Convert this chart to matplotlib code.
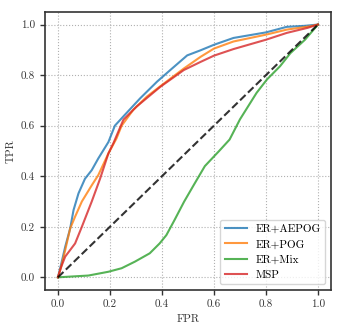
import matplotlib
matplotlib.use("Agg")
import matplotlib.pyplot as plt

plt.rcParams['font.family'] = 'serif'
plt.rcParams['font.serif'] = ['cmr10', 'DejaVu Serif']
plt.rcParams['axes.formatter.use_mathtext'] = True
plt.rcParams['mathtext.fontset'] = 'cm'

labels = ["ER+AEPOG", "ER+POG", "ER+Mix", "MSP"]
colors = ["#1f77b4", "#ff7f0e", "#2ca02c", "#d62728"]

fpr_aepog = [0, 0.012, 0.028, 0.047, 0.06, 0.079, 0.104, 0.13, 0.155, 0.194, 0.219, 0.252, 0.316, 0.381, 0.432,
             0.497, 0.548, 0.6, 0.675, 0.8, 0.88, 0.95, 1.0]
tpr_aepog = [0, 0.05, 0.121, 0.193, 0.266, 0.332, 0.39, 0.424, 0.47, 0.535, 0.6, 0.637, 0.708, 0.774, 0.82,
             0.878, 0.898, 0.92, 0.947, 0.969, 0.991, 0.995, 1.0]

fpr_pog = [0, 0.012, 0.028, 0.047, 0.066, 0.092, 0.13, 0.155, 0.194, 0.225, 0.245, 0.29, 0.342, 0.40,
           0.484, 0.548, 0.6, 0.675, 0.8, 0.88, 0.97, 1.0]
tpr_pog = [0, 0.04, 0.108, 0.193, 0.24, 0.30, 0.364, 0.404, 0.49, 0.549, 0.60, 0.663, 0.715, 0.761,
           0.826, 0.872, 0.905, 0.933, 0.96, 0.98, 0.993, 1.0]

fpr_mix = [0, 0.117, 0.194, 0.245, 0.296, 0.353, 0.391, 0.417, 0.448, 0.485, 0.525, 0.565, 0.62, 0.66,
           0.70, 0.764, 0.804, 0.854, 0.894, 0.95, 1.0]
tpr_mix = [0, 0.007, 0.022, 0.036, 0.062, 0.095, 0.134, 0.167, 0.226, 0.299, 0.37, 0.44, 0.50, 0.545,
           0.625, 0.73, 0.783, 0.835, 0.887, 0.94, 1.0]

fpr_msp = [0, 0.012, 0.028, 0.066, 0.092, 0.13, 0.162, 0.194, 0.213, 0.252, 0.303, 0.394, 0.484,
           0.548, 0.6, 0.675, 0.8, 0.88, 0.96, 1.0]
tpr_msp = [0, 0.04, 0.082, 0.134, 0.20, 0.30, 0.39, 0.49, 0.53, 0.624, 0.676, 0.754, 0.82,
           0.852, 0.877, 0.903, 0.94, 0.967, 0.987, 1.0]

curves = [(fpr_aepog, tpr_aepog), (fpr_pog, tpr_pog), (fpr_mix, tpr_mix), (fpr_msp, tpr_msp)]

fig = plt.figure(figsize=(3.43, 3.31), dpi=100)
ax = fig.add_axes([0.131, 0.124, 0.834, 0.840])

for (x, y), lab, c in zip(curves, labels, colors):
    ax.plot(x, y, color=c, lw=1.5, alpha=0.8, label=lab)
ax.plot([0, 1], [0, 1], color='black', ls='--', lw=1.5, alpha=0.8)

ax.set_xlim(-0.05, 1.05)
ax.set_ylim(-0.05, 1.05)
ax.set_xticks([0, 0.2, 0.4, 0.6, 0.8, 1.0])
ax.set_yticks([0, 0.2, 0.4, 0.6, 0.8, 1.0])
ax.set_xticklabels(["0.0", "0.2", "0.4", "0.6", "0.8", "1.0"])
ax.set_yticklabels(["0.0", "0.2", "0.4", "0.6", "0.8", "1.0"])
ax.tick_params(labelsize=8, color='#333333', width=1, length=3.5, labelcolor='#333333')
ax.grid(True, ls=':', color='#b0b0b0', lw=0.8)
for s in ax.spines.values():
    s.set_color('#333333')
    s.set_linewidth(1.2)
ax.set_xlabel("FPR", fontsize=8, color='#333333')
ax.set_ylabel("TPR", fontsize=8, color='#333333')
leg = ax.legend(loc='lower right', fontsize=8, frameon=True, fancybox=True, handlelength=2.0, borderpad=0.4, labelspacing=0.5)
leg.get_frame().set_edgecolor('#cccccc')

fig.savefig("out.png", dpi=100)
